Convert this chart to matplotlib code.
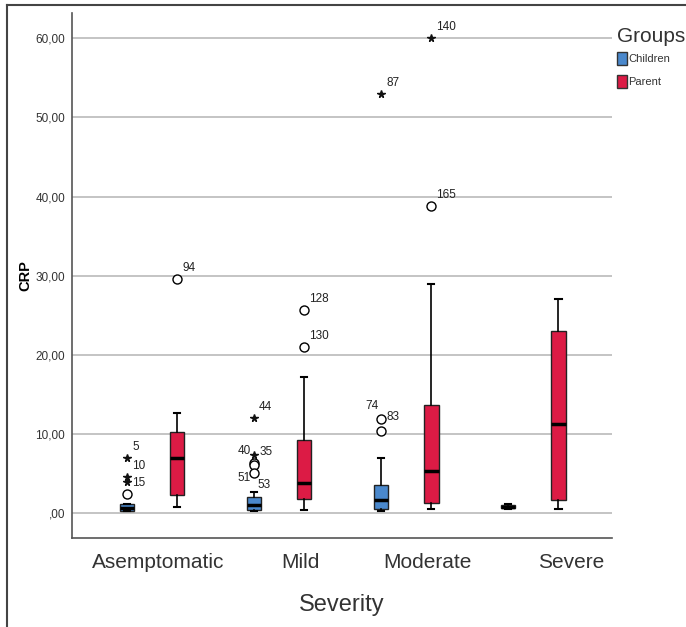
import matplotlib
matplotlib.use('Agg')
import matplotlib.pyplot as plt
from matplotlib.patches import Patch
from matplotlib.lines import Line2D

plt.rcParams['font.family'] = ['Liberation Sans', 'DejaVu Sans']

# categories and group summaries (CRP)
categories = ['Asemptomatic', 'Mild', 'Moderate', 'Severe']
groups = ['Children', 'Parent']

children_lo = [0.2, 0.3, 0.3, 0.5]
children_q1 = [0.3, 0.4, 0.45, 0.6]
children_med = [0.6, 1.0, 1.6, 0.8]
children_q3 = [1.1, 2.0, 3.6, 1.0]
children_hi = [1.2, 2.7, 7.0, 1.1]

parent_lo = [0.8, 0.4, 0.45, 0.45]
parent_q1 = [2.3, 1.8, 1.3, 1.6]
parent_med = [7.0, 3.8, 5.3, 11.3]
parent_q3 = [10.3, 9.2, 13.6, 23.0]
parent_hi = [12.6, 17.2, 29.0, 27.0]

# outliers: (category index, group index, value, kind, case id)
outliers = [
    (0, 0, 7.0, 'star', '5'),
    (0, 0, 4.6, 'star', '10'),
    (0, 0, 3.9, 'star', ''),
    (0, 0, 2.4, 'circle', '15'),
    (0, 1, 29.6, 'circle', '94'),
    (1, 0, 12.0, 'star', '44'),
    (1, 0, 7.3, 'star', '40'),
    (1, 0, 6.35, 'circle', '35'),
    (1, 0, 6.05, 'circle', ''),
    (1, 0, 5.1, 'circle', '51'),
    (1, 0, 2.7, 'none', '53'),
    (1, 1, 25.6, 'circle', '128'),
    (1, 1, 21.0, 'circle', '130'),
    (2, 0, 53.0, 'star', '87'),
    (2, 0, 11.9, 'circle', '74'),
    (2, 0, 10.35, 'circle', '83'),
    (2, 1, 38.8, 'circle', '165'),
    (2, 1, 60.0, 'star', '140'),
]

yticks = [0, 10, 20, 30, 40, 50, 60]
ytick_labels = [',00', '10,00', '20,00', '30,00', '40,00', '50,00', '60,00']

# label placement (pixels from the point)
label_offset = {'40': (-3, 4, 'right'), '51': (-3, -5, 'right'),
                '74': (-3, 13, 'right'), '83': (5, 14, 'left'),
                '53': (3, 7, 'left')}
tick_nudge = [0.05, 0.17, 0.17, 0.3]

colors = ['#4a88cc', '#dc1b45']
offset = 0.197
width = 0.115

fig = plt.figure(figsize=(6.86, 6.27), dpi=100)
ax = fig.add_axes([72 / 686, 1 - 538 / 627, 540 / 686, 525 / 627])

stats_sets = [
    (children_lo, children_q1, children_med, children_q3, children_hi),
    (parent_lo, parent_q1, parent_med, parent_q3, parent_hi),
]
for g, (lo, q1, med, q3, hi) in enumerate(stats_sets):
    stats = []
    for i in range(len(categories)):
        stats.append({'whislo': lo[i], 'q1': q1[i], 'med': med[i],
                      'q3': q3[i], 'whishi': hi[i], 'fliers': []})
    pos = [i + (offset if g else -offset) for i in range(len(categories))]
    ax.bxp(stats, positions=pos, widths=width, patch_artist=True,
           showfliers=False, capwidths=width * 0.45,
           boxprops=dict(facecolor=colors[g], edgecolor='#222222', linewidth=1.0),
           medianprops=dict(color='black', linewidth=2.5),
           whiskerprops=dict(color='black', linewidth=1.2),
           capprops=dict(color='black', linewidth=1.5),
           zorder=3)

for ci, gi, val, kind, cid in outliers:
    x = ci + (offset if gi else -offset)
    if kind == 'star':
        ax.plot(x, val, marker='*', color='#111111', markersize=5.5, zorder=4)
    elif kind == 'circle':
        ax.plot(x, val, marker='o', markerfacecolor='white', markeredgecolor='black',
                markersize=6.5, markeredgewidth=1.0, zorder=4)
    if cid:
        dx, dy, ha = label_offset.get(cid, (5, 11, 'left'))
        ax.annotate(cid, (x, val), xytext=(dx, dy), textcoords='offset pixels',
                    ha=ha, va='center', fontsize=8.5, color='#222222', zorder=5)

ax.set_xlim(-0.63, 3.62)
ax.set_ylim(-3.16, 63.2)
ax.set_yticks(yticks)
ax.set_yticklabels(ytick_labels, fontsize=8.5, color='#333333')
ax.set_xticks([i + tick_nudge[i] for i in range(len(categories))])
ax.set_xticklabels(categories, fontsize=15, color='#333333')
ax.tick_params(axis='both', length=0)
ax.tick_params(axis='y', pad=5)
ax.tick_params(axis='x', pad=11)
ax.grid(axis='y', color='#c4c4c4', linewidth=1.4, zorder=0)
ax.set_axisbelow(True)
for side in ['top', 'right']:
    ax.spines[side].set_visible(False)
for side in ['left', 'bottom']:
    ax.spines[side].set_color('#555555')
    ax.spines[side].set_linewidth(1.2)

ax.set_xlabel('Severity', fontsize=17, color='#333333', labelpad=16)
ax.set_ylabel('CRP', fontsize=10.5, fontweight='bold', labelpad=2)

# legend: title drawn separately so the gap matches the export
fig.text(617 / 686, 1 - 37 / 627, 'Groups', fontsize=15, color='#333333',
         ha='left', va='center')
handles = [Patch(facecolor=colors[i], edgecolor='#333333', label=groups[i]) for i in range(2)]
leg = fig.legend(handles=handles, loc='upper left',
                 bbox_to_anchor=(616 / 686, 1 - 51 / 627), frameon=False,
                 fontsize=8, handlelength=0.85, handleheight=1.35,
                 handletextpad=0.15, labelspacing=0.95, borderaxespad=0,
                 borderpad=0.1)
for t in leg.get_texts():
    t.set_color('#333333')

# outer frame of the exported chart
fig.add_artist(Line2D([7 / 686, 1], [1 - 5 / 627, 1 - 5 / 627], color='#444444', linewidth=1.5))
fig.add_artist(Line2D([7 / 686, 7 / 686], [0, 1 - 5 / 627], color='#444444', linewidth=1.5))

fig.savefig('out.png', dpi=100)
